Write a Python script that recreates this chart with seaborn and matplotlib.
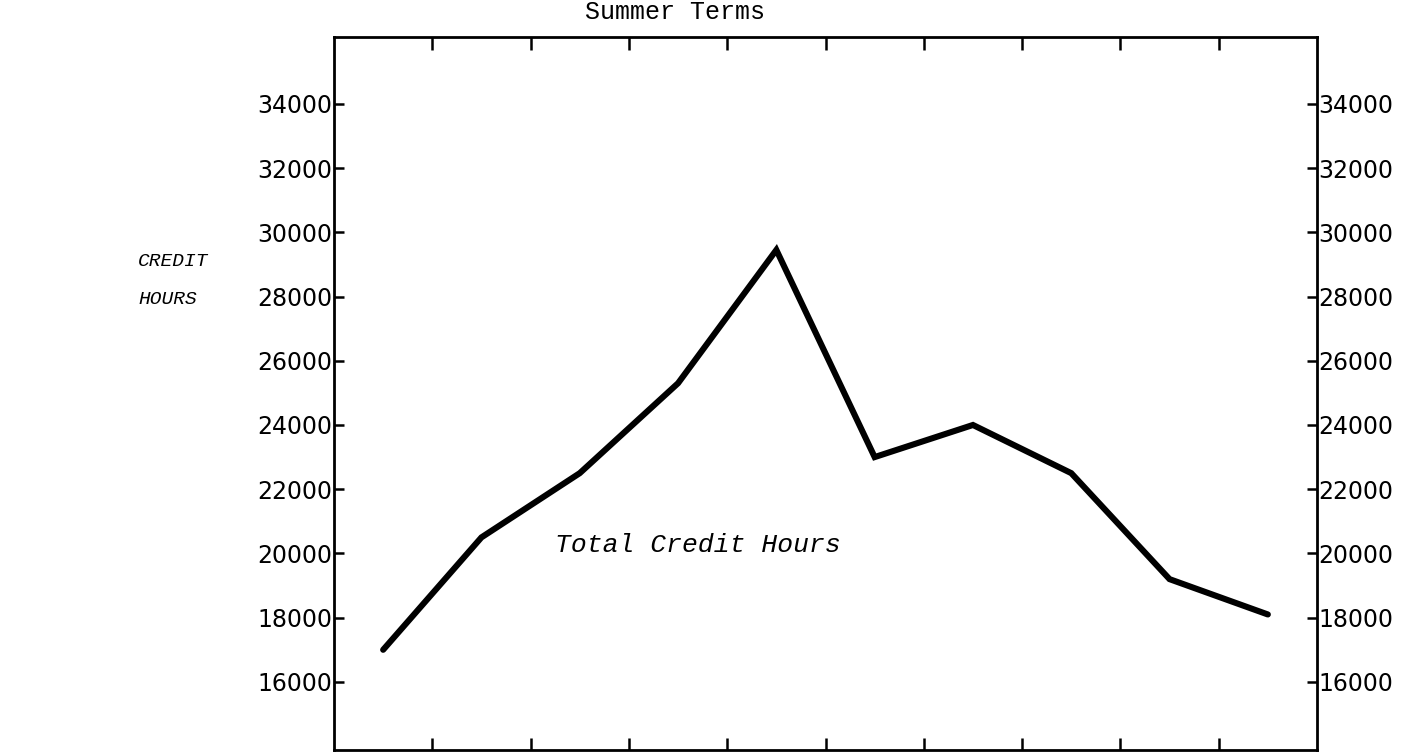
import matplotlib
matplotlib.use("Agg")
import matplotlib.pyplot as plt
import seaborn as sns
import pandas as pd

# ---- data ----
terms = ["T1", "T2", "T3", "T4", "T5", "T6", "T7", "T8", "T9", "T10"]
credit_hours = [17000, 20500, 22500, 25300, 29450, 23000, 24000, 22500, 19200, 18100]
y_ticks = [16000, 18000, 20000, 22000, 24000, 26000, 28000, 30000, 32000, 34000]
y_tick_labels = [str(v) for v in y_ticks]

sns.set_theme(style="white")
plt.rcParams["font.family"] = ["DejaVu Sans"]

W, H = 1408, 753
fig = plt.figure(figsize=(W / 100, H / 100), dpi=100)
ax = fig.add_axes([334 / W, 1 - 750 / H, (1317 - 334) / W, (750 - 37) / H])

df = pd.DataFrame({"pos": [i + 0.5 for i in range(len(terms))], "hours": credit_hours})
sns.lineplot(data=df, x="pos", y="hours", ax=ax, color="black", linewidth=4.4,
             solid_joinstyle="miter", solid_capstyle="round")

ax.set_xlim(0, len(terms))
ax.set_ylim(13880, 36080)
ax.set_xticks(range(1, len(terms)))
ax.set_xticklabels([])
ax.set_yticks(y_ticks)
ax.set_yticklabels(y_tick_labels)
ax.set_xlabel("")
ax.set_ylabel("")

for s in ax.spines.values():
    s.set_visible(True)
    s.set_color("black")
    s.set_linewidth(2.0)

ax.tick_params(axis="x", which="both", direction="in", length=9, width=1.8,
               top=True, bottom=True, labelbottom=False, color="black")
ax.tick_params(axis="y", which="both", direction="in", length=7, width=1.8,
               left=True, right=True, labelleft=True, labelright=True,
               labelsize=17, pad=1, color="black", labelcolor="black")

mono = ["Liberation Mono", "DejaVu Sans Mono"]
fig.text(675 / W, 1 - 12 / H, "Summer Terms", ha="center", va="center",
         fontsize=18, family=mono, color="black")
fig.text(138 / W, 1 - 262 / H, "CREDIT", ha="left", va="center", fontsize=14,
         style="italic", family=mono, color="black")
fig.text(138 / W, 1 - 300 / H, "HOURS", ha="left", va="center", fontsize=14,
         style="italic", family=mono, color="black")
fig.text(555 / W, 1 - 545 / H, "Total Credit Hours", ha="left", va="center",
         fontsize=19, style="italic", family=mono, color="black")

fig.savefig("out.png", dpi=100, facecolor="white")
